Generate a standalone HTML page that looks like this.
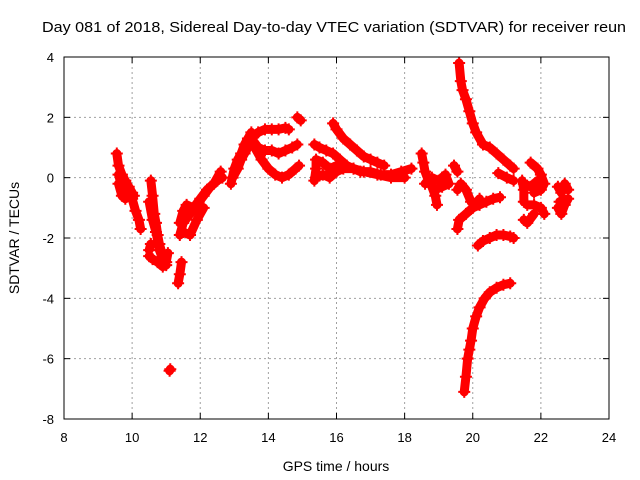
<!DOCTYPE html>
<html><head><meta charset="utf-8"><style>
body{margin:0;background:#fff}
svg{display:block;font-family:"Liberation Sans",sans-serif}
</style></head><body>
<svg id="c" width="640" height="480">
<text x="42" y="32" font-size="15" textLength="584" lengthAdjust="spacingAndGlyphs">Day 081 of 2018, Sidereal Day-to-day VTEC variation (SDTVAR) for receiver reun</text>
<text x="336" y="471" font-size="14" text-anchor="middle">GPS time / hours</text>
<text transform="translate(19,238) rotate(-90)" font-size="14" text-anchor="middle">SDTVAR / TECUs</text>
<g id="grid"></g><g id="ticks"></g><g id="marks"></g>
<rect x="64" y="57" width="545" height="362" fill="none" stroke="#000" stroke-width="1"/>
</svg>
<script>
const xTicks=[8,10,12,14,16,18,20,22,24];
const yTicks=[-8,-6,-4,-2,0,2,4];
const tracks=[
[[9.55,0.8],[9.6,0.4],[9.7,0.1],[9.8,-0.1],[9.9,-0.3],[10.0,-0.5],[10.05,-0.6]],
[[9.6,0.1],[9.7,-0.3],[9.8,-0.5],[9.9,-0.4],[10.0,-0.7],[10.1,-1.1],[10.2,-1.4],[10.25,-1.7]],
[[9.6,-0.2],[9.7,-0.6],[9.8,-0.7],[9.9,-0.6]],
[[10.55,-0.1],[10.6,-0.6],[10.65,-1.2],[10.7,-1.5],[10.75,-1.9],[10.8,-2.2],[10.9,-2.6],[11.0,-2.8],[11.05,-2.5]],
[[10.5,-0.8],[10.6,-1.4],[10.7,-1.8],[10.8,-2.4],[10.9,-2.7]],
[[10.5,-2.6],[10.6,-2.7],[10.75,-2.8],[10.9,-2.95],[11.0,-2.9]],
[[10.5,-2.4],[10.55,-2.2]],
[[11.35,-3.5],[11.4,-3.2],[11.45,-2.8]],
[[11.1,-6.4],[11.12,-6.35]],
[[11.4,-1.9],[11.5,-1.5],[11.7,-1.2],[11.9,-0.9],[12.1,-0.6],[12.3,-0.3],[12.5,-0.1],[12.65,0]],
[[11.4,-1.5],[11.5,-1.1],[11.6,-0.9],[11.8,-1.0],[12.0,-0.7],[12.2,-0.4],[12.4,-0.2],[12.6,0.2]],
[[11.5,-1.8],[11.7,-1.9],[11.9,-1.4],[12.1,-1.0]],
[[12.9,-0.2],[13.0,0.3],[13.1,0.6],[13.2,0.8],[13.3,1.1],[13.4,1.3],[13.5,1.5]],
[[12.95,0],[13.1,0.3],[13.2,0.6],[13.3,0.8],[13.4,1.0]],
[[13.5,1.3],[13.7,1.5],[13.9,1.6],[14.1,1.6],[14.3,1.6],[14.5,1.65],[14.6,1.6]],
[[14.85,2.0],[14.95,1.9]],
[[13.5,1.3],[13.7,1.0],[13.9,0.9],[14.1,0.9],[14.3,0.8],[14.5,0.9],[14.7,1.0],[14.85,1.1]],
[[13.6,1.0],[13.8,0.6],[14.0,0.3],[14.2,0.1],[14.4,0.0],[14.6,0.1],[14.8,0.3],[14.9,0.4]],
[[15.9,1.8],[16.0,1.6],[16.2,1.3],[16.4,1.1],[16.6,0.9],[16.8,0.7],[17.0,0.6],[17.2,0.5],[17.4,0.4]],
[[15.35,1.1],[15.5,1.0],[15.7,0.9],[15.9,0.8],[16.1,0.6],[16.3,0.4],[16.5,0.3],[16.7,0.2],[17.0,0.2],[17.3,0.1],[17.6,0.1],[17.9,0.2],[18.2,0.3]],
[[15.4,0.0],[15.6,0.1],[15.8,0.0],[16.0,0.2],[16.2,0.3],[16.5,0.3],[16.8,0.2],[17.2,0.1],[17.6,0.0],[18.0,0.0]],
[[15.35,-0.1],[15.4,0.3],[15.4,0.6],[15.6,0.5],[15.8,0.3],[16.0,0.4]],
[[18.5,0.8],[18.55,0.5],[18.6,0.2],[18.7,-0.1],[18.8,-0.3],[18.9,-0.6],[18.95,-0.9]],
[[18.6,-0.2],[18.8,0.0],[19.0,-0.1],[19.1,0.0],[19.2,0.1],[19.3,-0.2],[19.1,-0.3],[18.9,-0.4]],
[[19.6,3.8],[19.65,3.2],[19.7,2.9],[19.8,2.6],[19.9,2.2],[20.0,1.8],[20.1,1.5],[20.3,1.1],[20.5,1.0],[20.7,0.8],[20.9,0.6],[21.1,0.4],[21.2,0.3]],
[[20.75,0.15],[21.0,0.0],[21.2,-0.1]],
[[19.45,0.4],[19.55,0.2]],
[[19.55,-0.4],[19.65,-0.2],[19.8,-0.4],[19.95,-0.8],[20.1,-0.85],[20.2,-0.7]],
[[19.55,-1.7],[19.6,-1.4],[19.8,-1.2],[20.0,-1.0],[20.2,-0.9],[20.4,-0.8],[20.6,-0.7],[20.8,-0.65]],
[[20.15,-2.25],[20.3,-2.1],[20.5,-2.0],[20.7,-1.9],[20.9,-1.9],[21.1,-1.95],[21.2,-2.0]],
[[19.75,-7.1],[19.8,-6.6],[19.85,-6.0],[19.9,-5.7],[19.95,-5.4],[20.0,-5.0],[20.1,-4.6],[20.2,-4.3],[20.35,-4.0],[20.5,-3.8],[20.7,-3.65],[20.9,-3.55],[21.1,-3.5]],
[[21.7,0.5],[21.9,0.3],[22.0,0.1],[22.1,-0.2],[22.0,-0.4],[21.8,-0.5]],
[[21.45,-0.1],[21.5,-0.4],[21.5,-0.8]],
[[21.5,-0.2],[21.7,-0.3],[21.9,-0.1]],
[[21.6,-0.9],[21.8,-0.9],[22.0,-1.0],[22.1,-1.2]],
[[21.5,-1.4],[21.6,-1.5],[21.8,-1.2]],
[[22.5,-0.3],[22.6,-0.5],[22.7,-0.2],[22.8,-0.4]],
[[22.5,-1.0],[22.6,-1.2],[22.7,-0.9],[22.8,-0.7],[22.55,-0.8]]
];
const NS='http://www.w3.org/2000/svg';
const X0=64,X1=609,Y0=419,Y1=57;
function sx(h){return X0+(h-8)/16*(X1-X0);}
function sy(v){return Y0-(v+8)/12*(Y0-Y1);}
function mk(t,a,p){const e=document.createElementNS(NS,t);for(const k in a)e.setAttribute(k,a[k]);p.appendChild(e);return e;}
const grid=document.getElementById('grid'),ticks=document.getElementById('ticks'),marks=document.getElementById('marks');
xTicks.forEach(t=>{const x=sx(t);
 if(t>8&&t<24){const g=mk('line',{x1:x,x2:x,y1:Y1,y2:Y0,stroke:'#a0a0a0','stroke-dasharray':'2,3'},grid);
 
 }
 mk('line',{x1:x,x2:x,y1:Y0,y2:Y0-6,stroke:'#000'},ticks);
 mk('line',{x1:x,x2:x,y1:Y1,y2:Y1+6,stroke:'#000'},ticks);
 const l=mk('text',{x:x,y:442,'font-size':13,'text-anchor':'middle'},ticks);l.textContent=t;
 
 });
yTicks.forEach(t=>{const y=sy(t);
 if(t>-8&&t<4){const g=mk('line',{x1:X0,x2:X1,y1:y,y2:y,stroke:'#a0a0a0','stroke-dasharray':'2,3'},grid);
 
 }
 mk('line',{x1:X0,x2:X0+6,y1:y,y2:y,stroke:'#000'},ticks);
 mk('line',{x1:X1,x2:X1-6,y1:y,y2:y,stroke:'#000'},ticks);
 const l=mk('text',{x:54,y:y+5,'font-size':13,'text-anchor':'end'},ticks);l.textContent=t;
 
 });
tracks.forEach(tr=>{
 const g=mk('g',{},marks);
 
 
 mk('polyline',{points:tr.map(p=>sx(p[0])+','+sy(p[1])).join(' '),fill:'none',stroke:'#f00','stroke-width':9,'stroke-linejoin':'round','stroke-linecap':'round'},g);
 tr.forEach(p=>{const x=sx(p[0]),y=sy(p[1]);
  const m=mk('path',{d:`M${x-6},${y}H${x+6}M${x},${y-6}V${y+6}`,stroke:'#f00','stroke-width':2},g);
  
  });
});
</script>
</body></html>
